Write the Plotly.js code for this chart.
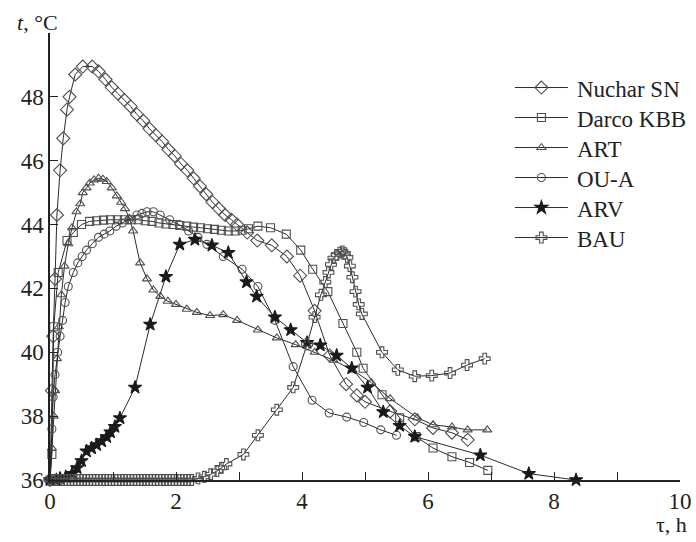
<!DOCTYPE html>
<html>
<head>
<meta charset="utf-8">
<script src="https://cdn.plot.ly/plotly-3.0.1.min.js"></script>
<style>
  html, body { margin: 0; padding: 0; background: #fff; }
  #chart { width: 696px; height: 542px; }
</style>
</head>
<body>
<div id="chart"></div>
<script>
// Temperature of the sample bed, t (°C), against time, τ (h), for six carbons

const seriesNames = ["Nuchar SN", "Darco KBB", "ART", "OU-A", "ARV", "BAU"];

const nucharX = [0, 0.03, 0.05, 0.08, 0.11, 0.16, 0.21, 0.27, 0.31, 0.4, 0.52, 0.67, 0.77, 0.88, 0.98, 1.08, 1.18, 1.28, 1.38, 1.48, 1.58, 1.68, 1.78, 1.88, 1.98, 2.08, 2.18, 2.28, 2.38, 2.48, 2.58, 2.68, 2.78, 2.88, 2.97, 3.13, 3.29, 3.52, 3.76, 3.97, 4.2, 4.44, 4.7, 4.87, 5.0, 5.4, 5.79, 6.08, 6.38, 6.63];
const nucharY = [36.0, 38.8, 40.5, 42.3, 44.3, 45.7, 46.7, 47.6, 48.0, 48.7, 48.95, 48.95, 48.8, 48.55, 48.3, 48.1, 47.9, 47.7, 47.45, 47.25, 47.0, 46.8, 46.6, 46.35, 46.15, 45.9, 45.7, 45.45, 45.2, 44.95, 44.7, 44.5, 44.3, 44.15, 44.0, 43.75, 43.5, 43.35, 43.0, 42.4, 41.3, 39.9, 39.0, 38.65, 38.45, 38.15, 37.9, 37.63, 37.48, 37.26];

const darcoX = [0, 0.03, 0.06, 0.13, 0.27, 0.37, 0.5, 0.63, 0.74, 0.85, 0.96, 1.07, 1.18, 1.29, 1.4, 1.51, 1.62, 1.73, 1.84, 1.95, 2.06, 2.17, 2.28, 2.39, 2.5, 2.61, 2.72, 2.83, 2.94, 3.05, 3.15, 3.3, 3.5, 3.75, 3.98, 4.17, 4.41, 4.65, 4.87, 4.97, 5.27, 5.55, 5.81, 6.08, 6.38, 6.66, 6.95];
const darcoY = [36.0, 36.8, 40.8, 42.5, 43.5, 43.75, 44.0, 44.1, 44.12, 44.14, 44.15, 44.15, 44.15, 44.15, 44.15, 44.12, 44.1, 44.05, 44.02, 44.0, 43.97, 43.95, 43.92, 43.9, 43.87, 43.85, 43.82, 43.8, 43.8, 43.82, 43.87, 43.95, 43.9, 43.7, 43.2, 42.6, 41.9, 40.9, 40.0, 39.5, 38.67, 37.95, 37.36, 37.0, 36.73, 36.55, 36.3];

const artX = [0, 0.03, 0.06, 0.08, 0.11, 0.14, 0.18, 0.23, 0.29, 0.35, 0.42, 0.48, 0.52, 0.58, 0.63, 0.7, 0.77, 0.84, 0.9, 0.98, 1.06, 1.13, 1.19, 1.26, 1.32, 1.43, 1.54, 1.64, 1.75, 1.87, 2.0, 2.17, 2.33, 2.54, 2.75, 2.97, 3.3, 3.6, 3.9, 4.2, 4.5, 4.8, 5.1, 5.4, 5.83, 6.08, 6.38, 6.63, 6.94];
const artY = [36.0, 37.0, 38.0, 38.8, 39.8, 40.8, 41.8, 42.7, 43.4, 43.9, 44.4, 44.65, 45.0, 45.15, 45.3, 45.4, 45.45, 45.42, 45.35, 45.15, 44.9, 44.7, 44.5, 44.2, 43.8, 42.8, 42.3, 41.95, 41.75, 41.6, 41.5, 41.35, 41.25, 41.15, 41.18, 41.0, 40.7, 40.45, 40.24, 40.0, 39.75, 39.45, 39.05, 38.55, 37.95, 37.73, 37.66, 37.57, 37.57];

const ouaX = [0, 0.03, 0.05, 0.08, 0.12, 0.16, 0.2, 0.24, 0.29, 0.37, 0.44, 0.51, 0.58, 0.67, 0.77, 0.86, 0.95, 1.05, 1.15, 1.25, 1.38, 1.46, 1.54, 1.64, 1.75, 1.9, 2.05, 2.2, 2.35, 2.49, 2.75, 3.05, 3.3, 3.57, 3.86, 4.16, 4.43, 4.71, 4.98, 5.25, 5.5];
const ouaY = [36.0, 37.6, 38.6, 39.3, 40.0, 40.5, 41.0, 41.56, 42.06, 42.5, 42.8, 43.0, 43.2, 43.4, 43.6, 43.7, 43.8, 43.95, 44.05, 44.15, 44.3, 44.35, 44.4, 44.4, 44.3, 44.15, 44.0, 43.8, 43.6, 43.38, 43.0, 42.6, 42.06, 41.0, 39.55, 38.5, 38.1, 37.97, 37.8, 37.57, 37.4];

const arvX = [0, 0.1, 0.16, 0.25, 0.35, 0.43, 0.5, 0.58, 0.66, 0.74, 0.82, 0.9, 0.96, 1.03, 1.11, 1.35, 1.59, 1.84, 2.06, 2.3, 2.57, 2.83, 3.12, 3.28, 3.57, 3.82, 4.08, 4.29, 4.55, 4.79, 5.04, 5.29, 5.55, 5.79, 6.83, 7.6, 8.35];
const arvY = [36.0, 36.0, 36.05, 36.1, 36.2, 36.38, 36.6, 36.9, 37.0, 37.1, 37.22, 37.35, 37.5, 37.67, 37.94, 38.9, 40.87, 42.37, 43.38, 43.53, 43.35, 43.12, 42.2, 41.75, 41.1, 40.7, 40.3, 40.22, 39.9, 39.5, 38.9, 38.13, 37.7, 37.36, 36.78, 36.2, 36.0];

const bauX = [0, 0.05, 0.1, 0.15, 0.2, 0.25, 0.3, 0.35, 0.4, 0.45, 0.5, 0.55, 0.6, 0.65, 0.7, 0.75, 0.8, 0.85, 0.9, 0.95, 1.0, 1.05, 1.1, 1.15, 1.2, 1.25, 1.3, 1.35, 1.4, 1.45, 1.5, 1.55, 1.6, 1.65, 1.7, 1.75, 1.8, 1.85, 1.9, 1.95, 2.0, 2.05, 2.1, 2.15, 2.2, 2.25, 2.35, 2.45, 2.55, 2.65, 2.72, 2.8, 3.07, 3.3, 3.6, 3.86, 4.08, 4.2, 4.3, 4.37, 4.42, 4.46, 4.5, 4.55, 4.6, 4.64, 4.68, 4.72, 4.76, 4.8, 4.85, 4.9, 4.95, 5.27, 5.52, 5.79, 6.06, 6.35, 6.62, 6.9];
const bauY = [36.0, 36.0, 36.0, 36.0, 36.0, 36.0, 36.0, 36.0, 36.0, 36.0, 36.0, 36.0, 36.0, 36.0, 36.0, 36.0, 36.0, 36.0, 36.0, 36.0, 36.0, 36.0, 36.0, 36.0, 36.0, 36.0, 36.0, 36.0, 36.0, 36.0, 36.0, 36.0, 36.0, 36.0, 36.0, 36.0, 36.0, 36.0, 36.0, 36.0, 36.0, 36.0, 36.0, 36.0, 36.0, 36.0, 36.05, 36.1, 36.18, 36.28, 36.38, 36.5, 36.8, 37.4, 38.2, 38.9, 40.25, 41.1, 41.8, 42.2, 42.5, 42.75, 42.95, 43.05, 43.12, 43.16, 43.1, 42.97, 42.7, 42.35, 41.9, 41.5, 41.2, 40.0, 39.45, 39.25, 39.27, 39.35, 39.6, 39.8];

const xTickVals = [0, 2, 4, 6, 8, 10];
const yTickVals = [36, 38, 40, 42, 44, 46, 48];

const FONT = "'Liberation Serif', 'Times New Roman', serif";
const LINE = "#2b2b2b";
const MARK = "#505050";

function series(name, x, y, symbol, size, filled) {
  return {
    type: "scatter",
    mode: "lines+markers",
    name: name,
    x: x,
    y: y,
    cliponaxis: false,
    line: { color: LINE, width: 1 },
    marker: {
      symbol: symbol,
      size: size,
      color: filled ? "#1a1a1a" : MARK,
      line: { color: filled ? "#1a1a1a" : MARK, width: 1.1 }
    }
  };
}

const traces = [
  series(seriesNames[0], nucharX, nucharY, "diamond-open", 10, false),
  series(seriesNames[1], darcoX, darcoY, "square-open", 8, false),
  series(seriesNames[2], artX, artY, "triangle-up-open", 8, false),
  series(seriesNames[3], ouaX, ouaY, "circle-open", 8, false),
  series(seriesNames[4], arvX, arvY, "star", 10, true),
  series(seriesNames[5], bauX, bauY, "cross-open", 9, false)
];

const layout = {
  width: 696,
  height: 542,
  margin: { l: 50, r: 16, t: 33, b: 62 },
  paper_bgcolor: "#ffffff",
  plot_bgcolor: "#ffffff",
  font: { family: FONT, size: 23, color: "#222" },
  showlegend: true,
  legend: {
    x: 0.73, xanchor: "left",
    y: 0.926, yanchor: "top",
    bgcolor: "rgba(0,0,0,0)",
    font: { family: FONT, size: 23, color: "#222" },
    tracegroupgap: 0
  },
  xaxis: {
    range: [0, 10],
    tickmode: "array",
    tickvals: xTickVals,
    ticktext: xTickVals.map(String),
    ticks: "inside",
    ticklen: 8,
    tickwidth: 1.2,
    tickcolor: "#222",
    minor: { dtick: 1, ticks: "inside", ticklen: 8, tickwidth: 1.2, tickcolor: "#222" },
    showline: true,
    linecolor: "#222",
    linewidth: 1.5,
    showgrid: false,
    zeroline: false,
    tickfont: { family: FONT, size: 23, color: "#222" }
  },
  yaxis: {
    range: [36, 50],
    tickmode: "array",
    tickvals: yTickVals,
    ticktext: yTickVals.map(String),
    ticks: "inside",
    ticklen: 8,
    tickwidth: 1.2,
    tickcolor: "#222",
    showline: true,
    linecolor: "#222",
    linewidth: 1.5,
    showgrid: false,
    zeroline: false,
    tickfont: { family: FONT, size: 23, color: "#222" }
  },
  annotations: [
    {
      text: "<i>t</i>, °C",
      xref: "paper", yref: "paper",
      x: 0, y: 1, xanchor: "center", yanchor: "bottom",
      xshift: -13, yshift: -4,
      showarrow: false,
      font: { family: FONT, size: 22, color: "#222" }
    },
    {
      text: "τ, h",
      xref: "paper", yref: "paper",
      x: 1, y: 0, xanchor: "right", yanchor: "top",
      xshift: 9, yshift: -30,
      showarrow: false,
      font: { family: FONT, size: 22, color: "#222" }
    }
  ]
};

Plotly.newPlot("chart", traces, layout, { displayModeBar: false, responsive: false }).then(function (gd) {
  // legend: longer sample lines, symbol centred on them, text after them,
  // and rows 30 px apart
  gd.querySelectorAll(".legend [clip-path]").forEach(function (el) {
    el.removeAttribute("clip-path");
  });
  const items = gd.querySelectorAll(".legend .traces");
  let firstY = null;
  items.forEach(function (item, i) {
    const m = /translate\(\s*([-\d.]+)[ ,]+([-\d.]+)/.exec(item.getAttribute("transform") || "");
    const y0 = m ? parseFloat(m[2]) : 0;
    if (firstY === null) firstY = y0;
    item.setAttribute("transform", "translate(0," + (firstY + 30 * i) + ")");
    item.querySelectorAll(".legendlines path").forEach(function (p) {
      p.setAttribute("d", "M5,0h53");
    });
    item.querySelectorAll(".legendsymbols path.scatterpts").forEach(function (p) {
      p.setAttribute("transform", "translate(31.5,0)");
    });
    item.querySelectorAll("text.legendtext").forEach(function (t) {
      t.setAttribute("x", "67");
      t.querySelectorAll("tspan[x]").forEach(function (s) { s.setAttribute("x", "67"); });
    });
  });
});
</script>
</body>
</html>
